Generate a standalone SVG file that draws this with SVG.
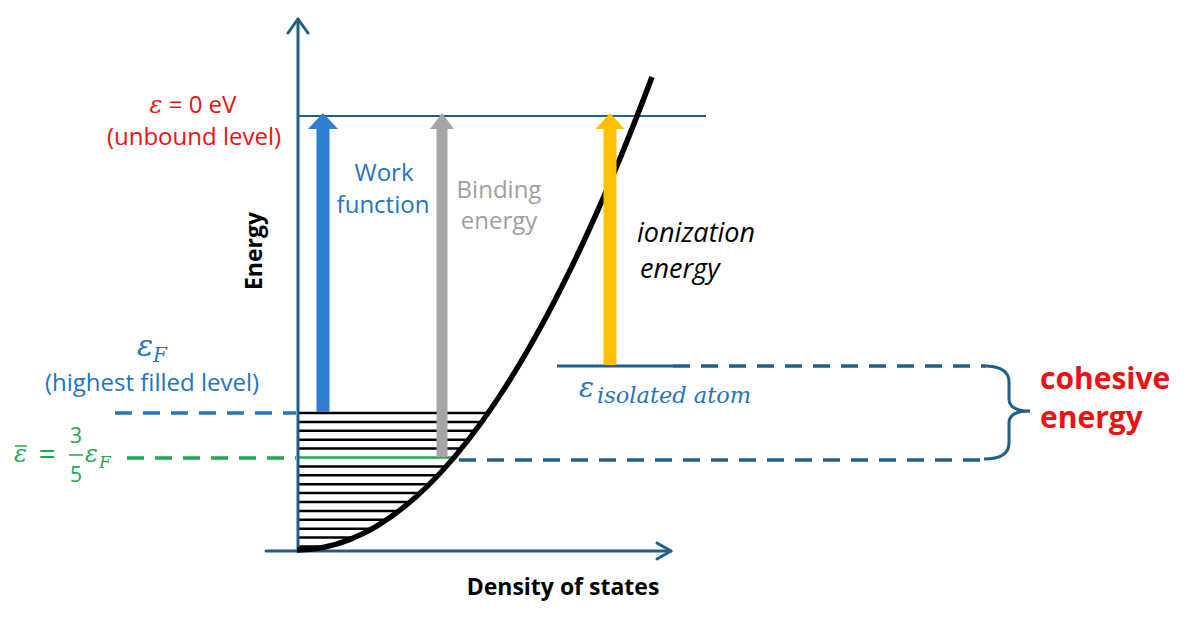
<svg xmlns="http://www.w3.org/2000/svg" width="1200" height="620" viewBox="0 0 1200 620">
<style>
.axis{stroke:#1f5f8a;stroke-width:3;fill:none;stroke-linecap:round;stroke-linejoin:round}
.lvl{stroke:#1f5f8a;stroke-width:3;fill:none}
.dash{stroke:#1f5f8a;stroke-width:3.5;fill:none;stroke-dasharray:17 11}
.hatch{stroke:#000;stroke-width:2.5}
.sans{font-family:"Open Sans","Liberation Sans",sans-serif}
.math{font-family:"DejaVu Serif","Liberation Serif",serif;font-style:italic}
.red{fill:#ee1111}
.blue{fill:#2474bf}
.green{fill:#1fa84f}
</style>
<defs>
<clipPath id="under">
<path d="M297,550 Q474.5,550 652,77 L298,77 Z"/>
</clipPath>
</defs>
<rect width="1200" height="620" fill="#fff"/>

<g id="hatching" clip-path="url(#under)">
<g class="hatch">
<line x1="298" y1="413" x2="700" y2="413"/>
<line x1="298" y1="421.9" x2="700" y2="421.9"/>
<line x1="298" y1="430.8" x2="700" y2="430.8"/>
<line x1="298" y1="439.7" x2="700" y2="439.7"/>
<line x1="298" y1="448.6" x2="700" y2="448.6"/>
<line x1="298" y1="466.4" x2="700" y2="466.4"/>
<line x1="298" y1="475.3" x2="700" y2="475.3"/>
<line x1="298" y1="484.2" x2="700" y2="484.2"/>
<line x1="298" y1="493.1" x2="700" y2="493.1"/>
<line x1="298" y1="502" x2="700" y2="502"/>
<line x1="298" y1="510.9" x2="700" y2="510.9"/>
<line x1="298" y1="519.8" x2="700" y2="519.8"/>
<line x1="298" y1="528.7" x2="700" y2="528.7"/>
<line x1="298" y1="537.6" x2="700" y2="537.6"/>
<line x1="298" y1="546.5" x2="700" y2="546.5"/>
</g>
<line x1="298" y1="457.5" x2="700" y2="457.5" stroke="#1fa84f" stroke-width="2.5"/>
</g>

<g id="connectors">
<line class="lvl" x1="298" y1="116" x2="706" y2="116" style="stroke-width:2.2"/>
<line class="lvl" x1="557" y1="366" x2="673" y2="366"/>
<line class="dash" x1="673" y1="366" x2="985" y2="366"/>
<line class="dash" x1="459" y1="460" x2="985" y2="460"/>
<path class="lvl" d="M984,366 Q1009,366 1009,382 L1009,399 Q1009,411 1030,411 Q1009,411 1009,423 L1009,443 Q1009,459 984,459"/>
<line x1="115" y1="413" x2="296" y2="413" stroke="#2474bf" stroke-width="3.5" stroke-dasharray="17 11"/>
<line x1="127" y1="458" x2="296" y2="458" stroke="#1fa84f" stroke-width="3.5" stroke-dasharray="17 11"/>
</g>

<g id="axes">
<line class="axis" x1="298" y1="551" x2="298" y2="19"/>
<polyline class="axis" points="288,33 298,19 308,33"/>
<line class="axis" x1="266" y1="551" x2="671" y2="551"/>
<polyline class="axis" points="657,543 671,551 657,559"/>
</g>

<g id="dos-curve">
<path d="M297,550 Q474.5,550 652,77" fill="none" stroke="#000" stroke-width="5.5" stroke-linecap="butt"/>
</g>

<g id="work-function-arrow">
<polygon points="316.5,412 316.5,129 308,129 323,113 338,129 329.5,129 329.5,412" fill="#2f80d2"/>
</g>
<g id="binding-arrow">
<polygon points="436.5,457 436.5,129 430,129 442,113 454,129 447.5,129 447.5,457" fill="#a6a6a6"/>
</g>
<g id="ionization-arrow">
<polygon points="603.5,365 603.5,129 595.5,129 610,113 624.5,129 616.5,129 616.5,365" fill="#ffc000"/>
</g>

<g id="label-unbound">
<text class="sans red" x="193" y="113" font-size="24" text-anchor="middle"><tspan class="math">ε</tspan> = 0 eV</text>
<text class="sans red" x="194" y="145" font-size="24" text-anchor="middle">(unbound level)</text>
</g>

<g id="label-work">
<text class="sans blue" x="384" y="181" font-size="24" text-anchor="middle">Work</text>
<text class="sans blue" x="383" y="213" font-size="24" text-anchor="middle">function</text>
</g>

<g id="label-binding">
<text class="sans" x="499" y="198" font-size="24" text-anchor="middle" fill="#a0a0a0">Binding</text>
<text class="sans" x="499" y="229" font-size="24" text-anchor="middle" fill="#a0a0a0">energy</text>
</g>

<g id="label-ionization">
<text class="sans" x="637" y="242" font-size="27" font-style="italic" fill="#000">ionization</text>
<text class="sans" x="640" y="278" font-size="27" font-style="italic" fill="#000">energy</text>
</g>

<g id="label-fermi">
<text class="math blue" x="137" y="356" font-size="30">ε</text>
<text class="math blue" x="153" y="362" font-size="20">F</text>
<text class="sans blue" x="152" y="391" font-size="24" text-anchor="middle">(highest filled level)</text>
</g>

<g id="label-mean">
<text class="math green" x="14" y="462" font-size="24">ε</text>
<line x1="15" y1="446" x2="27" y2="446" stroke="#1fa84f" stroke-width="1.5"/>
<text class="sans green" x="47" y="464" font-size="30" text-anchor="middle">=</text>
<text class="sans green" x="76" y="443" font-size="21" text-anchor="middle">3</text>
<line x1="69" y1="455" x2="83" y2="455" stroke="#1fa84f" stroke-width="1.5"/>
<text class="sans green" x="76" y="482" font-size="21" text-anchor="middle">5</text>
<text class="math green" x="85" y="462" font-size="24">ε</text>
<text class="math green" x="99" y="468" font-size="17">F</text>
</g>

<g id="label-isolated">
<text class="math blue" x="579" y="397" font-size="28">ε</text>
<text class="math blue" x="597" y="403" font-size="22.5">isolated atom</text>
</g>

<g id="label-cohesive">
<text class="sans red" x="1040" y="389" font-size="30" font-weight="bold">cohesive</text>
<text class="sans red" x="1040" y="428" font-size="30" font-weight="bold">energy</text>
</g>

<g id="axis-labels">
<text class="sans" x="0" y="0" font-size="23" font-weight="bold" fill="#000" text-anchor="middle" transform="translate(262,251) rotate(-90)">Energy</text>
<text class="sans" x="563" y="595" font-size="23" font-weight="bold" fill="#000" text-anchor="middle">Density of states</text>
</g>
</svg>
